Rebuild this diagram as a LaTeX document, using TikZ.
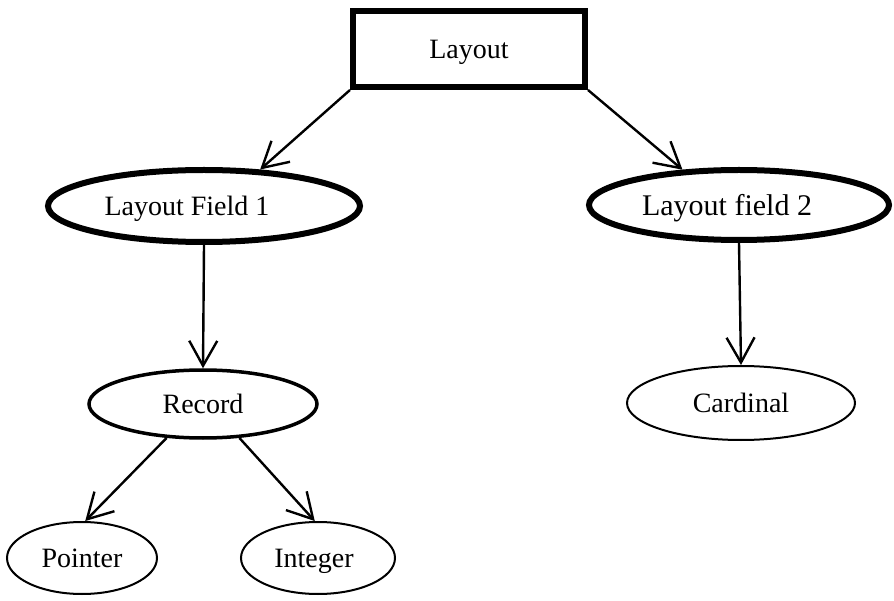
\documentclass[tikz,border=0pt]{standalone}
\usepackage{fontspec}
\setmainfont{Liberation Serif}
\usetikzlibrary{shapes.geometric,arrows.meta}
\begin{document}
\begin{tikzpicture}[x=1pt,y=-1pt,
  every node/.style={font=\fontsize{28}{32}\selectfont,text depth=0pt},
  box/.style={draw,rectangle,line width=6pt,minimum width=232pt,minimum height=76pt,inner sep=0pt},
  thickell/.style={draw,ellipse,line width=6pt,inner sep=0pt},
  medell/.style={draw,ellipse,line width=3.5pt,inner sep=0pt},
  thinell/.style={draw,ellipse,line width=2pt,inner sep=0pt},
  conn/.style={line width=2.4pt,-{Straight Barb[length=25pt,width=28pt,line width=2.4pt]}}
]
\useasboundingbox (0,0) rectangle (894,601);
\node[box] (layout) at (469,49) {Layout};
\node[thickell,minimum width=312pt,minimum height=72pt,
  label={[xshift=-17pt]center:Layout Field 1}] (f1) at (204,206) {};
\node[thickell,minimum width=300pt,minimum height=70pt,
  label={[xshift=-12pt,font=\fontsize{30}{34}\selectfont]center:Layout field 2}] (f2) at (739,205) {};
\node[medell,minimum width=228pt,minimum height=68pt] (rec) at (203,404) {Record};
\node[thinell,minimum width=228pt,minimum height=74pt] (card) at (741,403) {Cardinal};
\node[thinell,minimum width=150pt,minimum height=72pt] (ptr) at (82,558) {Pointer};
\node[thinell,minimum width=154pt,minimum height=72pt,
  label={[xshift=-4pt]center:Integer}] (intg) at (318,558) {};
\draw[conn] (layout.south west) -- (f1.33);
\draw[conn] (layout.south east) -- (f2.148);
\draw[conn] (f1.south) -- (rec.north);
\draw[conn] (f2.south) -- (card.north);
\draw[conn] (rec.223) -- (ptr.85);
\draw[conn] (rec.317) -- (intg.95);
\end{tikzpicture}
\end{document}
